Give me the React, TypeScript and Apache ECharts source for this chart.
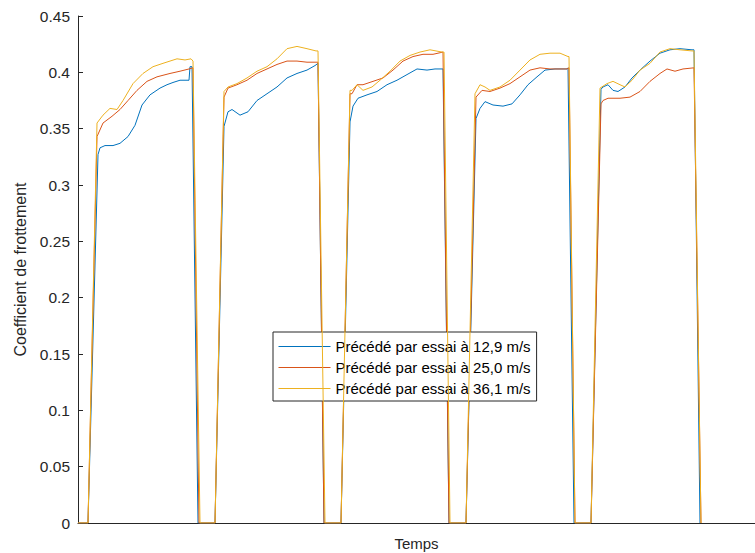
import React, { useEffect, useRef } from "react";
import * as echarts from "echarts";

// Time in arbitrary units (Temps), friction coefficient values
const seriesNames = [
  "Précédé par essai à 12,9 m/s",
  "Précédé par essai à 25,0 m/s",
  "Précédé par essai à 36,1 m/s",
];

const yTicks = [0, 0.05, 0.1, 0.15, 0.2, 0.25, 0.3, 0.35, 0.4, 0.45];

const blue12 = [
  [0, 0], [10, 0], [20, 0.327], [22, 0.333], [27, 0.335], [35, 0.335], [42, 0.337], [50, 0.343], [57, 0.353], [64, 0.371], [72, 0.38], [82, 0.386], [89, 0.389], [95, 0.391], [102, 0.393], [111, 0.393], [112, 0.405], [114, 0.405], [120, 0], [137, 0],
  [146, 0.352], [150, 0.365], [154, 0.367], [162, 0.362], [170, 0.365], [179, 0.375], [189, 0.381], [199, 0.387], [209, 0.395], [219, 0.399], [229, 0.402], [237, 0.406], [240, 0.408], [246, 0], [263, 0],
  [272, 0.356], [275, 0.37], [280, 0.377], [289, 0.38], [299, 0.383], [309, 0.389], [319, 0.393], [329, 0.398], [339, 0.403], [349, 0.402], [357, 0.403], [365, 0.403], [371, 0], [388, 0],
  [398, 0.359], [402, 0.368], [407, 0.374], [415, 0.371], [425, 0.37], [434, 0.372], [442, 0.38], [450, 0.389], [459, 0.396], [467, 0.402], [477, 0.403], [489, 0.403], [490, 0.404], [496, 0], [513, 0],
  [523, 0.385], [525, 0.387], [530, 0.389], [535, 0.384], [540, 0.383], [547, 0.387], [554, 0.395], [562, 0.402], [572, 0.41], [582, 0.417], [592, 0.42], [602, 0.421], [614, 0.42], [616, 0.42], [622, 0],
];

const red25 = [
  [0, 0], [10, 0], [19, 0.343], [25, 0.355], [34, 0.361], [42, 0.367], [50, 0.375], [59, 0.384], [69, 0.392], [79, 0.396], [92, 0.399], [102, 0.401], [111, 0.403], [115, 0.404], [121, 0], [137, 0],
  [146, 0.378], [150, 0.386], [159, 0.389], [169, 0.393], [179, 0.399], [189, 0.403], [199, 0.407], [209, 0.41], [219, 0.41], [229, 0.409], [240, 0.409], [246, 0], [263, 0],
  [272, 0.381], [274, 0.381], [279, 0.389], [285, 0.389], [295, 0.392], [305, 0.395], [315, 0.402], [325, 0.41], [335, 0.414], [345, 0.416], [355, 0.416], [365, 0.418], [371, 0], [388, 0],
  [398, 0.378], [404, 0.384], [412, 0.383], [422, 0.386], [432, 0.39], [442, 0.396], [452, 0.402], [462, 0.404], [472, 0.403], [489, 0.403], [491, 0.404], [497, 0], [513, 0],
  [523, 0.372], [525, 0.375], [530, 0.377], [542, 0.377], [552, 0.378], [562, 0.383], [572, 0.392], [582, 0.399], [589, 0.403], [597, 0.401], [605, 0.403], [616, 0.404], [623, 0],
];

const yellow36 = [
  [0, 0], [10, 0], [19, 0.355], [25, 0.362], [32, 0.368], [39, 0.367], [45, 0.375], [55, 0.39], [65, 0.399], [75, 0.405], [85, 0.408], [99, 0.412], [107, 0.411], [113, 0.412], [115, 0.41], [122, 0], [137, 0],
  [146, 0.383], [150, 0.387], [159, 0.39], [169, 0.395], [179, 0.401], [189, 0.405], [199, 0.412], [209, 0.421], [219, 0.423], [229, 0.421], [238, 0.419], [240, 0.419], [247, 0], [263, 0],
  [272, 0.384], [274, 0.384], [279, 0.389], [285, 0.384], [294, 0.387], [302, 0.393], [312, 0.401], [322, 0.41], [332, 0.415], [342, 0.418], [352, 0.42], [364, 0.418], [366, 0.418], [372, 0], [388, 0],
  [397, 0.381], [402, 0.389], [407, 0.387], [412, 0.384], [422, 0.387], [432, 0.393], [442, 0.402], [452, 0.411], [462, 0.416], [472, 0.417], [482, 0.417], [490, 0.414], [491, 0.414], [497, 0], [513, 0],
  [522, 0.386], [529, 0.39], [535, 0.392], [542, 0.389], [547, 0.387], [554, 0.393], [562, 0.402], [572, 0.408], [582, 0.418], [592, 0.421], [602, 0.42], [614, 0.419], [616, 0.419], [623, 0],
];

const seriesData = [blue12, red25, yellow36];
const colors = ["#0072BD", "#D95319", "#EDB120"];

const FONT = "'Liberation Sans', Arial, Helvetica, sans-serif";
const AXIS_COLOR = "#262626";

export default function App() {
  const ref = useRef<HTMLDivElement>(null);

  useEffect(() => {
    if (!ref.current) return;
    const chart = echarts.init(ref.current, undefined, { renderer: "svg" });
    chart.setOption({
      animation: false,
      backgroundColor: "#ffffff",
      grid: { left: 78, right: 0, top: 16, bottom: 30, containLabel: false, outerBoundsMode: "none" },
      xAxis: {
        type: "value",
        min: 0,
        max: 677,
        name: "Temps",
        nameLocation: "middle",
        nameGap: 13,
        nameTextStyle: { color: AXIS_COLOR, fontSize: 15, fontFamily: FONT },
        axisLine: { show: true, onZero: false, lineStyle: { color: AXIS_COLOR, width: 1 } },
        axisTick: { show: false },
        axisLabel: { show: false },
        splitLine: { show: false },
      },
      yAxis: {
        type: "value",
        min: yTicks[0],
        max: yTicks[yTicks.length - 1],
        interval: 0.05,
        name: "Coefficient de frottement",
        nameLocation: "middle",
        nameRotate: 90,
        nameGap: 50,
        nameTextStyle: { color: AXIS_COLOR, fontSize: 16, fontFamily: FONT },
        axisLine: { show: true, lineStyle: { color: AXIS_COLOR, width: 1 } },
        axisTick: { show: true, inside: true, length: 5, lineStyle: { color: AXIS_COLOR } },
        axisLabel: {
          margin: 8,
          color: AXIS_COLOR,
          fontSize: 15.5,
          fontFamily: FONT,
          formatter: (v: number) => String(Math.round(v * 100) / 100),
        },
        splitLine: { show: false },
      },
      legend: {
        orient: "vertical",
        left: 273,
        top: 332,
        itemWidth: 52,
        itemHeight: 14,
        itemGap: 6,
        padding: [7, 6, 5, 5],
        borderColor: AXIS_COLOR,
        borderWidth: 1,
        backgroundColor: "#ffffff",
        data: seriesNames,
        itemStyle: { opacity: 0 },
        lineStyle: { width: 1 },
        textStyle: { color: "#000000", fontSize: 15, fontFamily: FONT },
      },
      series: seriesNames.map((name, i) => ({
        name,
        type: "line",
        data: seriesData[i],
        symbol: "none",
        showSymbol: false,
        color: colors[i],
        lineStyle: { color: colors[i], width: 1 },
        emphasis: { disabled: true },
        z: 2 + i,
      })),
    });
    return () => chart.dispose();
  }, []);

  return (
    <div
      ref={ref}
      style={{ position: "absolute", left: 0, top: 0, width: 755, height: 553, background: "#fff" }}
    />
  );
}
